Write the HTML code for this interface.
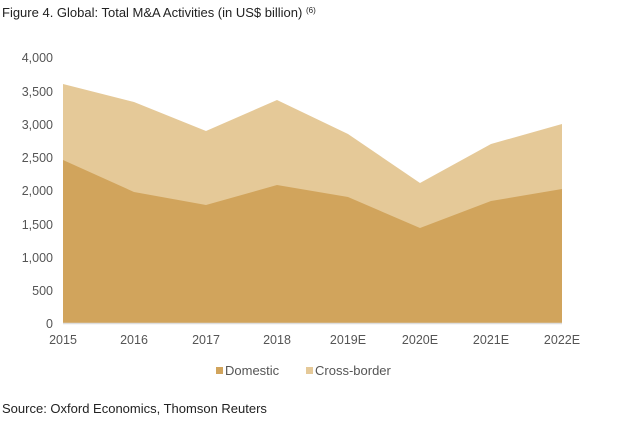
<!DOCTYPE html>
<html><head><meta charset="utf-8"><style>
html,body{margin:0;padding:0;background:#fff;}
svg{display:block;font-family:"Liberation Sans",sans-serif;}
</style></head><body>
<svg width="631" height="425" viewBox="0 0 631 425" xmlns="http://www.w3.org/2000/svg">
<rect width="631" height="425" fill="#fff"/>
<text x="2" y="17" font-size="13" fill="#222">Figure 4. Global: Total M&amp;A Activities (in US$ billion) <tspan font-size="8" dy="-4">(6)</tspan></text>
<g font-size="12.5" fill="#555" text-anchor="end">
<text x="53" y="62">4,000</text>
<text x="53" y="96">3,500</text>
<text x="53" y="129">3,000</text>
<text x="53" y="162">2,500</text>
<text x="53" y="195">2,000</text>
<text x="53" y="229">1,500</text>
<text x="53" y="262">1,000</text>
<text x="53" y="295">500</text>
<text x="53" y="328">0</text>
</g>
<polygon fill="#e5c998" points="63,84 134,102 206,131 277,100 348,134 420,183 491,144 562,124 562,323 63,323"/>
<polygon fill="#d1a45c" points="63,160 134,192 206,205 277,185 348,197 420,228 491,201 562,189 562,323 63,323"/>
<line x1="63" y1="323.5" x2="562" y2="323.5" stroke="#ddd" stroke-width="1.5"/>
<g font-size="12.5" fill="#555" text-anchor="middle">
<text x="63" y="344">2015</text>
<text x="134" y="344">2016</text>
<text x="206" y="344">2017</text>
<text x="277" y="344">2018</text>
<text x="348" y="344">2019E</text>
<text x="420" y="344">2020E</text>
<text x="491" y="344">2021E</text>
<text x="562" y="344">2022E</text>
</g>
<rect x="216" y="367" width="7" height="7" fill="#d1a45c"/>
<text x="225" y="375" font-size="13" fill="#555">Domestic</text>
<rect x="306" y="367" width="7" height="7" fill="#e5c998"/>
<text x="315" y="375" font-size="13" fill="#555">Cross-border</text>
<text x="2" y="413" font-size="13" fill="#222">Source: Oxford Economics, Thomson Reuters</text>
</svg>
</body></html>
